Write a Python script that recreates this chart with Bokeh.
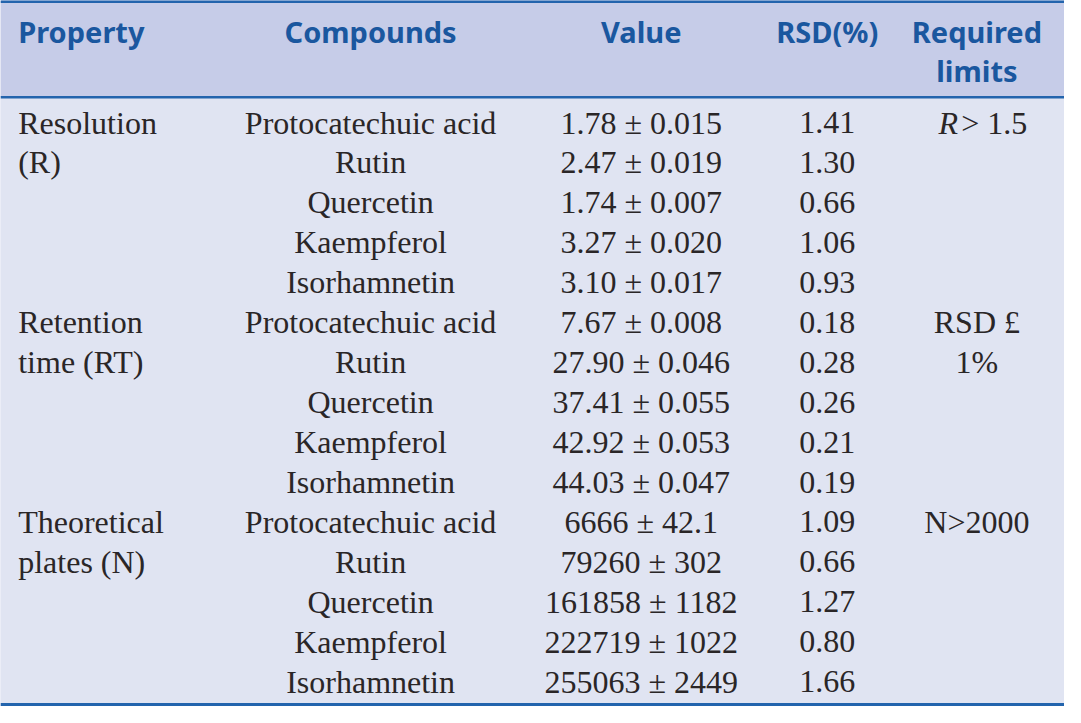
from bokeh.plotting import figure
from bokeh.models import Range1d, ColumnDataSource
from bokeh.core.properties import value
from bokeh.embed import file_html
from bokeh.resources import INLINE

# ---- data ----
headers = ["Property", "Compounds", "Value", "RSD(%)", "Required", "limits"]
compounds = ["Protocatechuic acid", "Rutin", "Quercetin", "Kaempferol", "Isorhamnetin"] * 3
values = ["1.78 ± 0.015", "2.47 ± 0.019", "1.74 ± 0.007", "3.27 ± 0.020", "3.10 ± 0.017",
          "7.67 ± 0.008", "27.90 ± 0.046", "37.41 ± 0.055", "42.92 ± 0.053", "44.03 ± 0.047",
          "6666 ± 42.1", "79260 ± 302", "161858 ± 1182", "222719 ± 1022", "255063 ± 2449"]
rsd = ["1.41", "1.30", "0.66", "1.06", "0.93",
       "0.18", "0.28", "0.26", "0.21", "0.19",
       "1.09", "0.66", "1.27", "0.80", "1.66"]
property_lines = ["Resolution", "(R)", "", "", "",
                  "Retention", "time (RT)", "", "", "",
                  "Theoretical", "plates (N)", "", "", ""]
limit_lines = ["", "", "", "", "",
               "RSD £", "1%", "", "", "",
               "N>2000", "", "", "", ""]

# ---- layout ----
W, H = 1081, 723
p = figure(width=1064, height=706, x_range=Range1d(0, W), y_range=Range1d(H, 0),
           output_backend="svg", toolbar_location=None, min_border=0)
p.axis.visible = False
p.grid.visible = False
p.outline_line_color = None
p.background_fill_color = "#e0e4f2"
p.border_fill_color = "#e0e4f2"

HEAD_BG = "#c6cce8"
LINE = "#2364ad"
HEAD_TXT = "#1a579f"
TXT = "#2a2627"

p.quad(left=0, right=W, top=0, bottom=99, fill_color=HEAD_BG, line_color=None)
p.quad(left=0, right=W, top=99, bottom=H, fill_color="#e0e4f2", line_color=None)
for y, w in [(1, 3), (99, 2.5), (721, 3)]:
    p.segment(x0=0, y0=y, x1=W, y1=y, line_color=LINE, line_width=w)

hfont = value("Noto Sans")
hsize = "29px"
p.text(x=[18], y=[32], text=[headers[0]], text_font=hfont, text_font_size=hsize,
       text_font_style="bold", text_color=HEAD_TXT, text_align="left", text_baseline="middle")
p.text(x=[376, 651, 840, 992, 992], y=[32, 32, 32, 32, 72], text=headers[1:],
       text_font=hfont, text_font_size=hsize, text_font_style="bold",
       text_color=HEAD_TXT, text_align="center", text_baseline="middle")

row_y = [125 + 40.9 * i for i in range(len(compounds))]
bfont = value("Liberation Serif")
bsize = "32px"
src = ColumnDataSource(dict(y=row_y, comp=compounds, val=values, rsd=rsd,
                            prop=property_lines, lim=limit_lines))
p.text(x=18, y="y", text="prop", source=src, text_font=bfont, text_font_size=bsize,
       text_color=TXT, text_align="left", text_baseline="middle")
for x, col in [(376, "comp"), (651, "val"), (840, "rsd"), (992, "lim")]:
    p.text(x=x, y="y", text=col, source=src, text_font=bfont, text_font_size=bsize,
           text_color=TXT, text_align="center", text_baseline="middle")
# R > 1.5 with italic R
p.text(x=[953], y=[row_y[0]], text=["R"], text_font=bfont, text_font_size=bsize,
       text_font_style="italic", text_color=TXT, text_align="left", text_baseline="middle")
p.text(x=[976], y=[row_y[0]], text=["> 1.5"], text_font=bfont, text_font_size=bsize,
       text_color=TXT, text_align="left", text_baseline="middle")

open("out.html", "w").write(file_html(p, INLINE))
